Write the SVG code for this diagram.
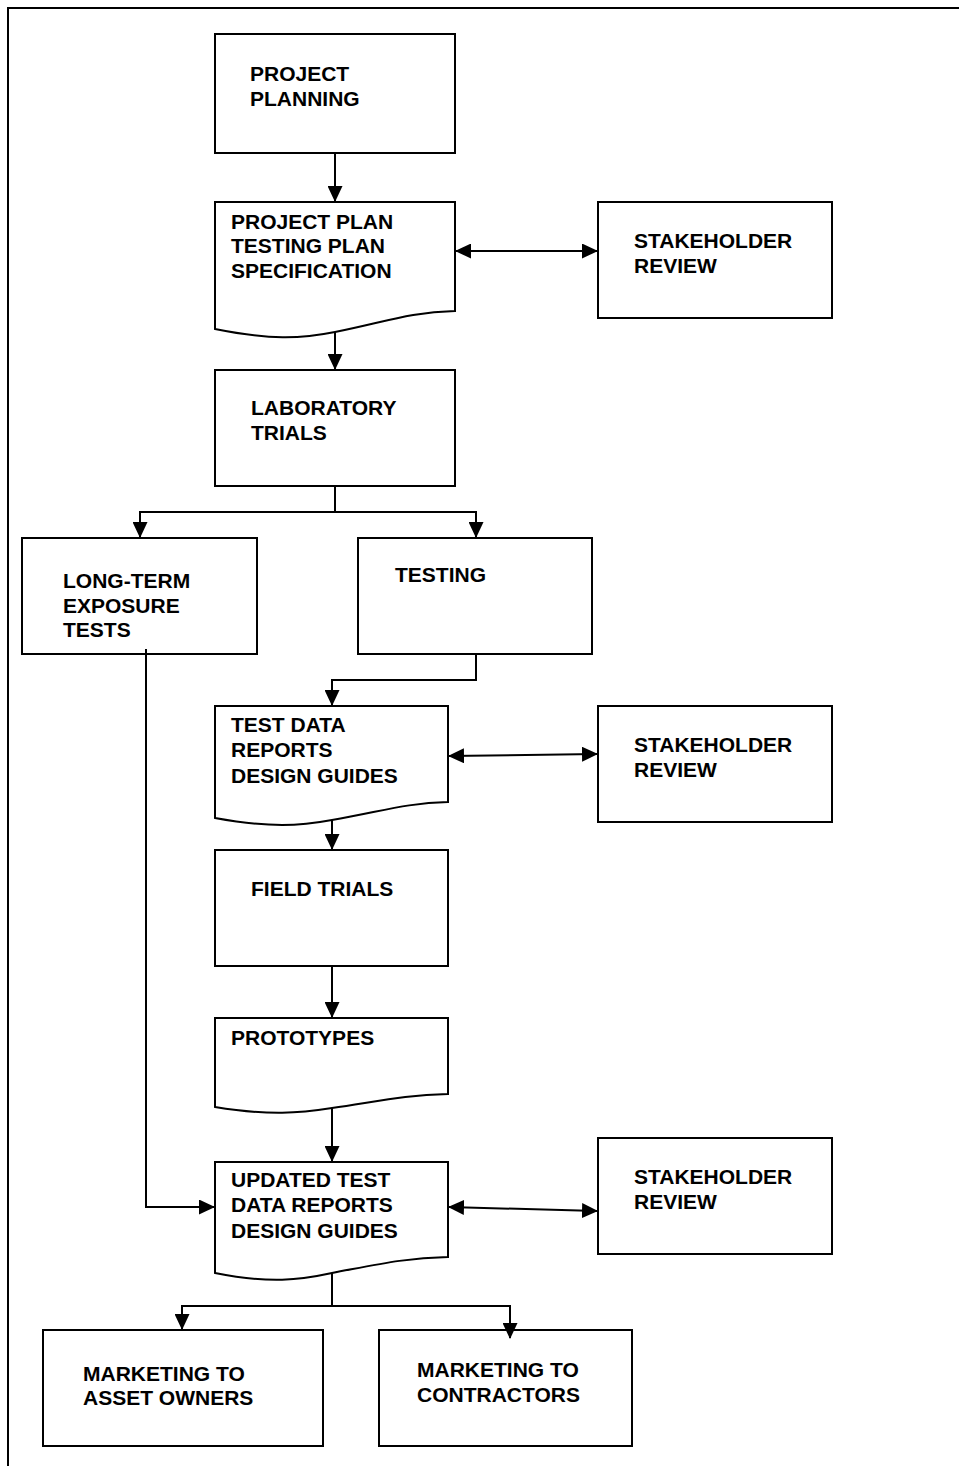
<svg xmlns="http://www.w3.org/2000/svg" width="959" height="1466" viewBox="0 0 959 1466">
<style>
.b{fill:#fff;stroke:#000;stroke-width:2}
.t{font-family:"Liberation Sans",Arial,sans-serif;font-weight:bold;font-size:21px;fill:#000}
.c{fill:none;stroke:#000;stroke-width:2}
</style>
<defs>
<marker id="ah" markerUnits="userSpaceOnUse" markerWidth="16" markerHeight="15" refX="15" refY="7.5" orient="auto-start-reverse" viewBox="0 0 16 15">
<path d="M0,0 L16,7.5 L0,15 Z" fill="#000"/>
</marker>
</defs>
<rect x="8" y="8" width="970" height="1480" fill="#fff" stroke="#000" stroke-width="2"/>

<g id="project-planning">
<rect class="b" x="215" y="34" width="240" height="119"/>
<text class="t" x="250" y="81">PROJECT</text>
<text class="t" x="250" y="106">PLANNING</text>
</g>

<g id="project-plan-doc">
<path class="b" d="M215,202 H455 V311 C410,312 385,322 335,332 C300,339 270,340 215,329 Z"/>
<text class="t" x="231" y="229">PROJECT PLAN</text>
<text class="t" x="231" y="253">TESTING PLAN</text>
<text class="t" x="231" y="278">SPECIFICATION</text>
</g>

<g id="stakeholder-review-1">
<rect class="b" x="598" y="202" width="234" height="116"/>
<text class="t" x="634" y="248">STAKEHOLDER</text>
<text class="t" x="634" y="273">REVIEW</text>
</g>

<g id="laboratory-trials">
<rect class="b" x="215" y="370" width="240" height="116"/>
<text class="t" x="251" y="415">LABORATORY</text>
<text class="t" x="251" y="440">TRIALS</text>
</g>

<g id="long-term-exposure">
<rect class="b" x="22" y="538" width="235" height="116"/>
<text class="t" x="63" y="588">LONG-TERM</text>
<text class="t" x="63" y="613">EXPOSURE</text>
<text class="t" x="63" y="637">TESTS</text>
</g>

<g id="testing">
<rect class="b" x="358" y="538" width="234" height="116"/>
<text class="t" x="395" y="582">TESTING</text>
</g>

<g id="test-data-doc">
<path class="b" d="M215,706 H448 V802 C405,803 380,812 332,820 C300,826 270,828 215,818 Z"/>
<text class="t" x="231" y="732">TEST DATA</text>
<text class="t" x="231" y="757">REPORTS</text>
<text class="t" x="231" y="783">DESIGN GUIDES</text>
</g>

<g id="stakeholder-review-2">
<rect class="b" x="598" y="706" width="234" height="116"/>
<text class="t" x="634" y="752">STAKEHOLDER</text>
<text class="t" x="634" y="777">REVIEW</text>
</g>

<g id="field-trials">
<rect class="b" x="215" y="850" width="233" height="116"/>
<text class="t" x="251" y="896">FIELD TRIALS</text>
</g>

<g id="prototypes-doc">
<path class="b" d="M215,1018 H448 V1094 C405,1095 380,1101 332,1108 C300,1113 270,1116 215,1107 Z"/>
<text class="t" x="231" y="1045">PROTOTYPES</text>
</g>

<g id="updated-doc">
<path class="b" d="M215,1162 H448 V1257 C405,1258 380,1264 332,1273 C300,1280 270,1284 215,1273 Z"/>
<text class="t" x="231" y="1187">UPDATED TEST</text>
<text class="t" x="231" y="1212">DATA REPORTS</text>
<text class="t" x="231" y="1238">DESIGN GUIDES</text>
</g>

<g id="stakeholder-review-3">
<rect class="b" x="598" y="1138" width="234" height="116"/>
<text class="t" x="634" y="1184">STAKEHOLDER</text>
<text class="t" x="634" y="1209">REVIEW</text>
</g>

<g id="marketing-asset-owners">
<rect class="b" x="43" y="1330" width="280" height="116"/>
<text class="t" x="83" y="1381">MARKETING TO</text>
<text class="t" x="83" y="1405">ASSET OWNERS</text>
</g>

<g id="marketing-contractors">
<rect class="b" x="379" y="1330" width="253" height="116"/>
<text class="t" x="417" y="1377">MARKETING TO</text>
<text class="t" x="417" y="1402">CONTRACTORS</text>
</g>

<g id="connectors">
<line class="c" x1="335" y1="153" x2="335" y2="201" marker-end="url(#ah)"/>
<line class="c" x1="456" y1="251" x2="597" y2="251" marker-start="url(#ah)" marker-end="url(#ah)"/>
<line class="c" x1="335" y1="332" x2="335" y2="369" marker-end="url(#ah)"/>
<polyline class="c" points="335,486 335,512 140,512 140,537" marker-end="url(#ah)"/>
<polyline class="c" points="335,512 476,512 476,537" marker-end="url(#ah)"/>
<polyline class="c" points="476,654 476,680 332,680 332,705" marker-end="url(#ah)"/>
<line class="c" x1="449" y1="756" x2="597" y2="754" marker-start="url(#ah)" marker-end="url(#ah)"/>
<line class="c" x1="332" y1="820" x2="332" y2="849" marker-end="url(#ah)"/>
<line class="c" x1="332" y1="966" x2="332" y2="1017" marker-end="url(#ah)"/>
<line class="c" x1="332" y1="1108" x2="332" y2="1161" marker-end="url(#ah)"/>
<polyline class="c" points="146,649 146,1207 214,1207" marker-end="url(#ah)"/>
<line class="c" x1="449" y1="1207" x2="597" y2="1211" marker-start="url(#ah)" marker-end="url(#ah)"/>
<polyline class="c" points="332,1273 332,1306 182,1306 182,1329" marker-end="url(#ah)"/>
<polyline class="c" points="332,1306 510,1306 510,1338" marker-end="url(#ah)"/>
</g>
</svg>
